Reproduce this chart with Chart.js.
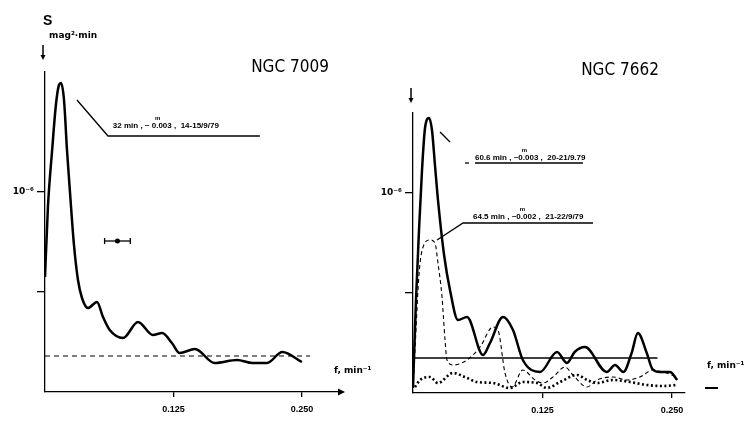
<!DOCTYPE html>
<html>
<head>
<meta charset="utf-8">
<script src="https://cdn.jsdelivr.net/npm/chart.js@4.4.1/dist/chart.umd.min.js"></script>
<style>
  html, body { margin: 0; padding: 0; background: #fff; width: 755px; height: 426px; overflow: hidden; }
  .panel { position: absolute; top: 0; height: 426px; }
  #p1 { left: 0; width: 375px; }
  #p2 { left: 375px; width: 380px; }
</style>
</head>
<body>
<div class="panel" id="p1"><canvas id="c7009"></canvas></div>
<div class="panel" id="p2"><canvas id="c7662"></canvas></div>
<script>
// frequencies in min^-1, power S in units of 10^-6 mag^2*min
const fN7009 = [0, 0.0029, 0.0068, 0.0107, 0.0136, 0.0156, 0.0185, 0.0214, 0.0243, 0.0282, 0.0321, 0.036, 0.0418, 0.0506, 0.0564, 0.063, 0.076, 0.0905, 0.105, 0.114, 0.1235, 0.131, 0.146, 0.165, 0.187, 0.202, 0.216, 0.231, 0.250];
const sN7009 = [0.575, 0.93, 1.2, 1.44, 1.535, 1.545, 1.46, 1.21, 1.0, 0.735, 0.56, 0.47, 0.42, 0.45, 0.375, 0.31, 0.27, 0.35, 0.285, 0.295, 0.245, 0.195, 0.215, 0.145, 0.16, 0.145, 0.145, 0.2, 0.15];

// NGC 7662, night 20-21/9/79 (solid)
const fN7662a = [0, 0.0029, 0.0058, 0.0087, 0.0116, 0.0154, 0.0183, 0.0212, 0.0241, 0.03, 0.0357, 0.0434, 0.0521, 0.0676, 0.0743, 0.0869, 0.0965, 0.106, 0.1226, 0.139, 0.1486, 0.156, 0.166, 0.187, 0.195, 0.203, 0.211, 0.217, 0.2256, 0.231, 0.238, 0.248, 0.255];
const sN7662a = [0.025, 0.465, 0.815, 1.115, 1.325, 1.375, 1.315, 1.14, 0.965, 0.69, 0.515, 0.365, 0.38, 0.19, 0.25, 0.38, 0.315, 0.165, 0.105, 0.205, 0.15, 0.205, 0.23, 0.105, 0.14, 0.105, 0.2, 0.30, 0.2, 0.12, 0.105, 0.105, 0.065];

// NGC 7662, night 21-22/9/79 (dashed)
const fN7662b = [0, 0.0029, 0.0048, 0.0068, 0.0097, 0.0164, 0.0212, 0.0241, 0.028, 0.0309, 0.0328, 0.0386, 0.0521, 0.0647, 0.0772, 0.082, 0.0888, 0.0956, 0.106, 0.1178, 0.1255, 0.1351, 0.1467, 0.1544, 0.168, 0.1776, 0.193, 0.2066, 0.219, 0.2317, 0.2413, 0.2548];
const sN7662b = [0.025, 0.315, 0.515, 0.65, 0.73, 0.765, 0.75, 0.65, 0.48, 0.265, 0.165, 0.14, 0.165, 0.23, 0.33, 0.315, 0.10, 0.03, 0.115, 0.065, 0.05, 0.08, 0.13, 0.09, 0.03, 0.065, 0.08, 0.065, 0.08, 0.115, 0.105, 0.08];

// NGC 7662, comparison star (dotted)
const fN7662c = [0.0019, 0.0068, 0.0164, 0.0241, 0.0386, 0.0521, 0.0618, 0.0772, 0.0936, 0.106, 0.1197, 0.1293, 0.1419, 0.1583, 0.168, 0.1776, 0.193, 0.2095, 0.2259, 0.2413, 0.2548];
const sN7662c = [0.03, 0.065, 0.08, 0.05, 0.10, 0.075, 0.055, 0.05, 0.025, 0.055, 0.05, 0.025, 0.055, 0.09, 0.065, 0.05, 0.065, 0.055, 0.04, 0.035, 0.04];

// noise levels
const noiseF7009 = [0, 0.258];
const noiseS7009 = [0.18, 0.18];
const noiseF7662 = [0, 0.236];
const noiseS7662 = [0.175, 0.175];

// frequency resolution bar
const resF = [0.058, 0.083];
const resS = [0.755, 0.755];
const resMidF = [0.0705];
const resMidS = [0.755];

const xTicks = [0.125, 0.250];
const yTicks = [0.5, 1.0];
const yTickLabel = '10⁻⁶';

const pts = (xs, ys) => xs.map((x, i) => ({ x: x, y: ys[i] }));

const FONT = '"Liberation Sans", Arial, sans-serif';
const SUP_FONT = '"DejaVu Sans", sans-serif';
const TITLE_FONT = '"DejaVu Sans Condensed", "Liberation Sans Narrow", "Liberation Sans", sans-serif';

function arrowHead(ctx, x, y, dir, size) {
    ctx.beginPath();
    if (dir === 'down') {
        ctx.moveTo(x, y); ctx.lineTo(x - size / 2, y - size); ctx.lineTo(x + size / 2, y - size);
    } else if (dir === 'right') {
        ctx.moveTo(x, y); ctx.lineTo(x - size, y - size / 2); ctx.lineTo(x - size, y + size / 2);
    } else {
        ctx.moveTo(x, y); ctx.lineTo(x + size, y - size / 2); ctx.lineTo(x + size, y + size / 2);
    }
    ctx.closePath();
    ctx.fill();
}

// draws titles, axis captions, arrows and the leader-line notes
const decorPlugin = {
    id: 'decor',
    afterDraw(chart, args, opts) {
        const ctx = chart.ctx;
        const xs = chart.scales.x, ys = chart.scales.y;
        const area = chart.chartArea;
        ctx.save();
        ctx.fillStyle = '#000';
        ctx.strokeStyle = '#000';

        // title
        ctx.font = '17px ' + TITLE_FONT;
        ctx.textAlign = 'center';
        ctx.textBaseline = 'alphabetic';
        ctx.fillText(opts.title, opts.titleX, opts.titleY);

        // y caption
        if (opts.yCaption) {
            ctx.textAlign = 'left';
            ctx.font = 'bold 14px ' + FONT;
            ctx.fillText('S', opts.yCaption.x, opts.yCaption.y);
            ctx.font = 'bold 9px ' + SUP_FONT;
            ctx.fillText('mag²·min', opts.yCaption.x + 6, opts.yCaption.y + 13);
        }

        // y arrow above the axis
        ctx.lineWidth = 1.5;
        ctx.beginPath();
        ctx.moveTo(area.left - 2, opts.yArrowTop);
        ctx.lineTo(area.left - 2, opts.yArrowTop + 10);
        ctx.stroke();
        arrowHead(ctx, area.left - 2, opts.yArrowTop + 15, 'down', 5);

        // x caption
        ctx.font = 'bold 9px ' + SUP_FONT;
        ctx.textAlign = 'left';
        ctx.fillText('f, min⁻¹', opts.xCaption.x, opts.xCaption.y);

        if (opts.xArrow === 'axis') {
            arrowHead(ctx, area.right + 2, area.bottom, 'right', 7);
        } else {
            ctx.lineWidth = 2;
            ctx.beginPath();
            ctx.moveTo(opts.xArrow.x, opts.xArrow.y);
            ctx.lineTo(opts.xArrow.x + 13, opts.xArrow.y);
            ctx.stroke();
        }

        // notes
        (opts.notes || []).forEach(note => {
            ctx.lineWidth = 1.3;
            note.lines.forEach(line => {
                ctx.beginPath();
                line.forEach((p, i) => {
                    const px = xs.getPixelForValue(p[0]), py = ys.getPixelForValue(p[1]);
                    if (i) ctx.lineTo(px, py); else ctx.moveTo(px, py);
                });
                ctx.stroke();
            });
            let tx = xs.getPixelForValue(note.label.f);
            const ty = ys.getPixelForValue(note.label.v) - note.label.dy;
            ctx.font = 'bold 8px ' + FONT;
            ctx.textAlign = 'left';
            ctx.fillText(note.label.pre, tx, ty);
            tx += ctx.measureText(note.label.pre).width;
            const mw = ctx.measureText(note.label.mag).width;
            ctx.fillText(note.label.mag, tx, ty);
            ctx.font = 'bold 6px ' + FONT;
            ctx.textAlign = 'center';
            ctx.fillText('m', tx + mw * 0.3, ty - 8);
            ctx.font = 'bold 8px ' + FONT;
            ctx.textAlign = 'left';
            ctx.fillText(note.label.post, tx + mw, ty);
        });
        ctx.restore();
    }
};

function makeChart(id, datasets, cfg) {
    return new Chart(document.getElementById(id), {
        type: 'scatter',
        data: { datasets: datasets },
        options: {
            responsive: true,
            maintainAspectRatio: false,
            animation: false,
            devicePixelRatio: 1,
            layout: { padding: cfg.padding },
            plugins: {
                legend: { display: false },
                tooltip: { enabled: false },
                decor: cfg.decor
            },
            scales: {
                x: {
                    type: 'linear',
                    min: 0,
                    max: cfg.xMax,
                    afterBuildTicks: axis => { axis.ticks = xTicks.map(v => ({ value: v })); },
                    afterFit: axis => { axis.height = cfg.xAxisHeight; },
                    grid: { drawOnChartArea: false, drawTicks: true, tickLength: 5, color: '#000', lineWidth: 1.3 },
                    border: { display: true, color: '#000', width: 1.3 },
                    ticks: {
                        color: '#000',
                        padding: 7,
                        maxRotation: 0,
                        font: { family: FONT, size: 9, weight: 'bold' },
                        callback: v => v.toFixed(3)
                    }
                },
                y: {
                    type: 'linear',
                    min: 0,
                    max: cfg.yMax,
                    afterBuildTicks: axis => { axis.ticks = yTicks.map(v => ({ value: v })); },
                    afterFit: axis => { axis.width = cfg.yAxisWidth; },
                    grid: { drawOnChartArea: false, drawTicks: true, tickLength: 8, color: '#000', lineWidth: 1.3 },
                    border: { display: true, color: '#000', width: 1.3 },
                    ticks: {
                        color: '#000',
                        padding: 3,
                        font: { family: SUP_FONT, size: 9, weight: 'bold' },
                        callback: v => (v === 1 ? yTickLabel : '')
                    }
                }
            }
        },
        plugins: [decorPlugin]
    });
}

const curve = (data, extra) => Object.assign({
    data: data,
    showLine: true,
    borderColor: '#000',
    backgroundColor: '#000',
    borderWidth: 2.5,
    pointRadius: 0,
    fill: false,
    cubicInterpolationMode: 'monotone'
}, extra || {});

makeChart('c7009', [
    curve(pts(fN7009, sN7009)),
    curve(pts(noiseF7009, noiseS7009), { borderWidth: 1.2, borderDash: [5, 4], cubicInterpolationMode: 'default' }),
    curve(pts(resF, resS), {
        borderWidth: 1.3, cubicInterpolationMode: 'default',
        pointRadius: 3, pointStyle: 'line', rotation: 90, pointBorderWidth: 1.3
    }),
    curve(pts(resMidF, resMidS), { showLine: false, pointRadius: 2.5, pointBorderWidth: 0 })
], {
    padding: { top: 72, right: 32, left: 0, bottom: 0 },
    xMax: 0.29,
    yMax: 1.6,
    xAxisHeight: 34,
    yAxisWidth: 45,
    decor: {
        title: 'NGC 7009', titleX: 290, titleY: 72,
        yCaption: { x: 43, y: 25 },
        yArrowTop: 45,
        xCaption: { x: 334, y: 373 },
        xArrow: 'axis',
        notes: [{
            lines: [[[0.0311, 1.46], [0.0613, 1.28], [0.2091, 1.28]]],
            label: { f: 0.066, v: 1.28, dy: 8, pre: '32 min , ~ ', mag: '0.003', post: ' ,  14-15/9/79' }
        }]
    }
});

makeChart('c7662', [
    curve(pts(fN7662a, sN7662a)),
    curve(pts(fN7662b, sN7662b), { borderWidth: 1.1, borderDash: [4, 3] }),
    curve(pts(fN7662c, sN7662c), { borderWidth: 2.6, borderDash: [2, 2.5] }),
    curve(pts(noiseF7662, noiseS7662), { borderWidth: 1.3, cubicInterpolationMode: 'default' })
], {
    padding: { top: 113, right: 70, left: 0, bottom: 0 },
    xMax: 0.2625,
    yMax: 1.4,
    xAxisHeight: 33,
    yAxisWidth: 38,
    decor: {
        title: 'NGC 7662', titleX: 245, titleY: 75,
        yCaption: null,
        yArrowTop: 88,
        xCaption: { x: 332, y: 368 },
        xArrow: { x: 330, y: 388 },
        notes: [{
            lines: [[[0.0261, 1.305], [0.0357, 1.255]], [[0.0502, 1.15], [0.054, 1.15]], [[0.0598, 1.15], [0.164, 1.15]]],
            label: { f: 0.0598, v: 1.15, dy: 3, pre: '60.6 min , ~', mag: '0.003', post: ' ,  20-21/9.79' }
        }, {
            lines: [[[0.0232, 0.765], [0.0483, 0.85], [0.1737, 0.85]]],
            label: { f: 0.0579, v: 0.85, dy: 4, pre: '64.5 min , ~', mag: '0.002', post: ' ,  21-22/9/79' }
        }]
    }
});
</script>
</body>
</html>
